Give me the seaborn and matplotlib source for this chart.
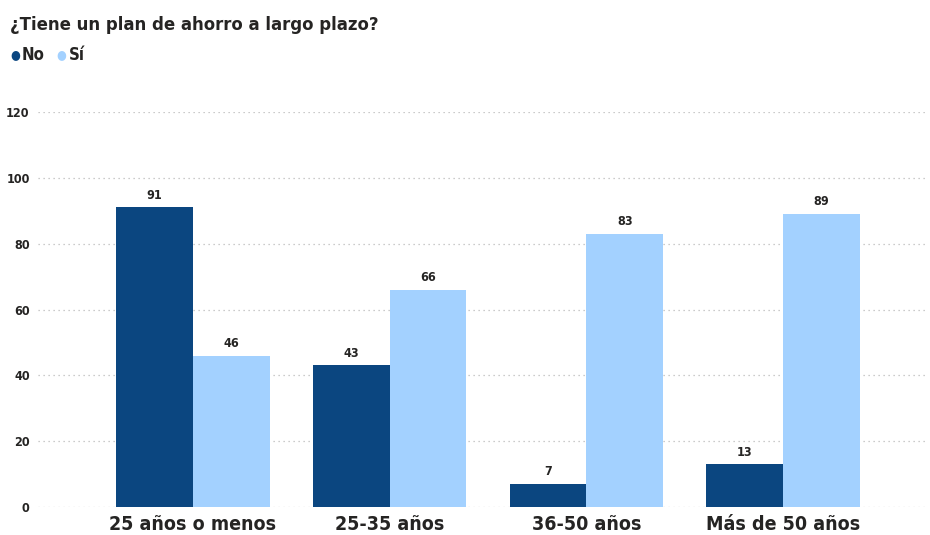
import matplotlib
matplotlib.use("Agg")
import matplotlib.pyplot as plt
import seaborn as sns
import pandas as pd

categories = ["25 años o menos", "25-35 años", "36-50 años", "Más de 50 años"]
series_names = ["No", "Sí"]
no_values = [91, 43, 7, 13]
si_values = [46, 66, 83, 89]
y_ticks = [0, 20, 40, 60, 80, 100, 120]
title = "¿Tiene un plan de ahorro a largo plazo?"

colors = {"No": "#0B4680", "Sí": "#A3D1FF"}
text_color = "#252423"

df = pd.DataFrame({
    "cat": categories * 2,
    "serie": ["No"] * 4 + ["Sí"] * 4,
    "val": no_values + si_values,
})

sns.set_theme(style="white")
plt.rcParams["font.family"] = ["DejaVu Sans"]
plt.rcParams["font.stretch"] = "condensed"

fig = plt.figure(figsize=(9.3, 5.35), dpi=100)
ax = fig.add_axes([38 / 930, 1 - 507 / 535, (928 - 38) / 930, (507 - 112) / 535])

sns.barplot(data=df, x="cat", y="val", hue="serie", order=categories,
            hue_order=series_names, palette=colors, width=0.78, ax=ax,
            legend=False, saturation=1, edgecolor="none")

ax.set_ylim(0, 120)
ax.set_xlim(-0.787, 3.736)
ax.set_yticks(y_ticks)
ax.set_yticklabels([str(t) for t in y_ticks], fontsize=9, fontweight="bold",
                   color=text_color, fontstretch="condensed")
ax.tick_params(axis="y", length=0, pad=6)
ax.tick_params(axis="x", length=0, pad=6)
ax.set_xticks(range(len(categories)))
ax.set_xticklabels(categories, fontsize=14, fontweight="bold", color=text_color,
                   fontstretch="condensed")
ax.set_xlabel("")
ax.set_ylabel("")
ax.yaxis.grid(True, linestyle=(0, (1, 3)), color="#BBBBBB", linewidth=0.9)
ax.xaxis.grid(False)
ax.set_axisbelow(True)
for s in ax.spines.values():
    s.set_visible(False)

for cont in ax.containers:
    ax.bar_label(cont, labels=[f"{v:.0f}" for v in cont.datavalues], padding=4,
                 fontsize=9, fontweight="bold", color=text_color,
                 fontstretch="condensed")

fig.text(10 / 930, 1 - 25 / 535, title, fontsize=13.2, fontweight="bold",
         color=text_color, va="center", ha="left", fontstretch="condensed")

# legend
fig.text(10 / 930, 1 - 55 / 535, "●", fontsize=9, color=colors["No"], va="center", ha="left")
fig.text(22 / 930, 1 - 55 / 535, "No", fontsize=12, fontweight="bold", color=text_color,
         va="center", ha="left", fontstretch="condensed")
fig.text(56 / 930, 1 - 55 / 535, "●", fontsize=9, color=colors["Sí"], va="center", ha="left")
fig.text(69 / 930, 1 - 55 / 535, "Sí", fontsize=12, fontweight="bold", color=text_color,
         va="center", ha="left", fontstretch="condensed")

fig.savefig("out.png", dpi=100)
